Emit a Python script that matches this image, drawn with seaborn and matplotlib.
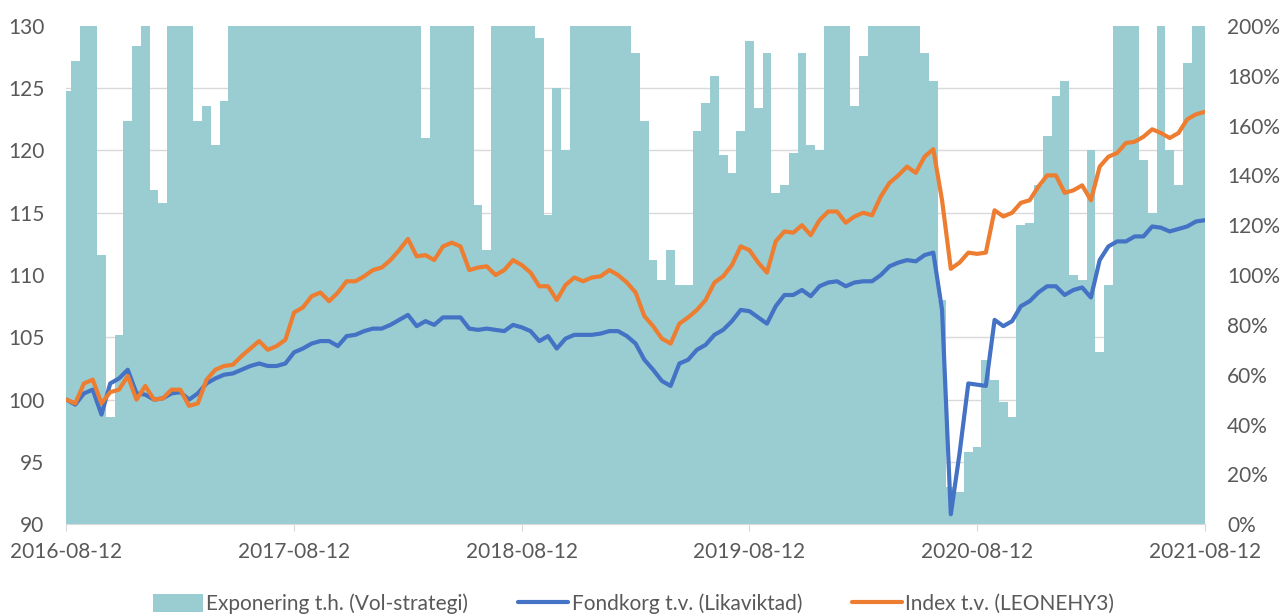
import pandas as pd
import numpy as np
import seaborn as sns
import matplotlib.pyplot as plt
import matplotlib.dates as mdates
from matplotlib.ticker import MultipleLocator, FuncFormatter
from matplotlib.patches import Patch
from matplotlib.lines import Line2D


# biweekly readings, 2016-08-12 .. 2021-08-12
dates = pd.date_range('2016-08-12', '2021-08-12', periods=131)

fondkorg = [100.0, 99.6, 100.5, 100.8, 98.8, 101.3, 101.7, 102.4, 100.5, 100.4,
            100.0, 100.1, 100.5, 100.6, 100.0, 100.5, 101.3, 101.7, 102.0, 102.1,
            102.4, 102.7, 102.9, 102.7, 102.7, 102.9, 103.8, 104.1, 104.5, 104.7,
            104.7, 104.3, 105.1, 105.2, 105.5, 105.7, 105.7, 106.0, 106.4, 106.8,
            105.9, 106.3, 106.0, 106.6, 106.6, 106.6, 105.7, 105.6, 105.7, 105.6,
            105.5, 106.0, 105.8, 105.5, 104.7, 105.1, 104.1, 104.9, 105.2, 105.2,
            105.2, 105.3, 105.5, 105.5, 105.1, 104.5, 103.2, 102.4, 101.5, 101.1,
            102.9, 103.2, 104.0, 104.4, 105.2, 105.6, 106.3, 107.2, 107.1, 106.6,
            106.1, 107.5, 108.4, 108.4, 108.8, 108.3, 109.1, 109.4, 109.5, 109.1,
            109.4, 109.5, 109.5, 110.0, 110.7, 111.0, 111.2, 111.1, 111.6, 111.8,
            107.2, 90.8, 95.7, 101.3, 101.2, 101.1, 106.4, 105.9, 106.3, 107.5,
            107.9, 108.6, 109.1, 109.1, 108.4, 108.8, 109.0, 108.2, 111.2, 112.3,
            112.7, 112.7, 113.1, 113.1, 113.9, 113.8, 113.5, 113.7, 113.9, 114.3,
            114.4]

index_hy = [100.0, 99.7, 101.3, 101.6, 99.7, 100.6, 100.8, 101.9, 100.0, 101.1,
            100.0, 100.1, 100.8, 100.8, 99.5, 99.7, 101.6, 102.4, 102.7, 102.8,
            103.5, 104.1, 104.7, 104.0, 104.3, 104.8, 107.0, 107.4, 108.3, 108.6,
            107.9, 108.6, 109.5, 109.5, 109.9, 110.4, 110.6, 111.2, 112.0, 112.9,
            111.5, 111.6, 111.2, 112.3, 112.6, 112.3, 110.4, 110.6, 110.7, 110.0,
            110.4, 111.2, 110.8, 110.2, 109.1, 109.1, 108.0, 109.2, 109.8, 109.5,
            109.8, 109.9, 110.4, 110.0, 109.4, 108.6, 106.7, 105.9, 104.9, 104.5,
            106.1, 106.6, 107.2, 108.0, 109.4, 109.9, 110.8, 112.3, 112.0, 111.0,
            110.2, 112.7, 113.5, 113.4, 114.0, 113.2, 114.4, 115.1, 115.1, 114.2,
            114.7, 115.0, 114.8, 116.3, 117.4, 118.0, 118.7, 118.2, 119.5, 120.1,
            116.0, 110.5, 111.0, 111.8, 111.7, 111.8, 115.2, 114.7, 115.0, 115.8,
            116.0, 117.1, 118.0, 118.0, 116.6, 116.8, 117.2, 116.0, 118.7, 119.5,
            119.8, 120.6, 120.7, 121.1, 121.7, 121.4, 121.0, 121.4, 122.5, 122.9,
            123.1]

# exposure in percent (capped at 200 by the axis)
exponering = [174, 186, 200, 200, 108, 43, 76, 162, 192, 200,
              134, 129, 200, 200, 200, 162, 168, 152, 170, 200,
              200, 200, 200, 200, 200, 200, 200, 200, 200, 200,
              200, 200, 200, 200, 200, 200, 200, 200, 200, 200,
              200, 155, 200, 200, 200, 200, 200, 128, 110, 200,
              200, 200, 200, 200, 195, 124, 175, 150, 200, 200,
              200, 200, 200, 200, 200, 189, 162, 106, 98, 110,
              96, 96, 158, 169, 180, 148, 141, 158, 194, 167,
              189, 133, 136, 149, 189, 152, 150, 200, 200, 200,
              168, 188, 200, 200, 200, 200, 200, 200, 189, 178,
              90, 15, 13, 29, 31, 66, 58, 49, 43, 120,
              121, 136, 156, 172, 178, 100, 98, 150, 69, 96,
              200, 200, 200, 146, 125, 200, 150, 136, 185, 200,
              200]

df = pd.DataFrame({'date': dates, 'Fondkorg': fondkorg, 'Index': index_hy,
                   'Exponering': exponering})

teal = '#99CDD2'
blue = '#4472C4'
orange = '#ED7D31'
grey = '#595959'

sns.set_style('white')
plt.rcParams['font.family'] = ['Lato', 'DejaVu Sans']

fig = plt.figure(figsize=(12.83, 6.16), dpi=100)
ax = fig.add_subplot(111)
fig.subplots_adjust(left=0.0518, right=0.939, top=0.958, bottom=0.149)

# exposure area on the base axes (right scale), lines on the twin (left scale)
ax.fill_between(df['date'], 0, df['Exponering'], step='mid', color=teal, lw=0, zorder=2)
ax.set_ylim(0, 200)
ax.yaxis.set_major_locator(MultipleLocator(20))
ax.yaxis.set_major_formatter(FuncFormatter(lambda v, p: f'{v:.0f}%'))
ax.yaxis.set_minor_locator(MultipleLocator(25))
ax.grid(which='minor', axis='y', color='#D9D9D9', lw=1, zorder=0)
ax.set_axisbelow(True)

ax2 = ax.twinx()
sns.lineplot(data=df, x='date', y='Fondkorg', ax=ax2, color=blue, lw=3)
sns.lineplot(data=df, x='date', y='Index', ax=ax2, color=orange, lw=3)
ax2.set_ylim(90, 130)
ax2.yaxis.set_major_locator(MultipleLocator(5))

# swap sides: percent scale right, index scale left
ax.yaxis.tick_right()
ax2.yaxis.tick_left()

ax.set_xlim(dates[0], dates[-1])
ticks = pd.to_datetime(['2016-08-12', '2017-08-12', '2018-08-12', '2019-08-12',
                        '2020-08-12', '2021-08-12'])
ax.set_xticks(ticks)
ax.xaxis.set_major_formatter(mdates.DateFormatter('%Y-%m-%d'))

for a in (ax, ax2):
    a.set_xlabel('')
    a.set_ylabel('')
    for s in a.spines.values():
        s.set_visible(False)

ax.spines['bottom'].set_visible(True)
ax.spines['bottom'].set_color('#D9D9D9')
ax.tick_params(axis='x', length=5, color='#D9D9D9', pad=8, labelsize=15, labelcolor=grey, bottom=True)
ax.tick_params(axis='y', which='major', length=0, pad=16, labelsize=15, labelcolor=grey)
ax.tick_params(axis='y', which='minor', length=0)
ax2.tick_params(axis='y', length=0, pad=16, labelsize=15, labelcolor=grey)

handles = [Patch(facecolor=teal, edgecolor='none'),
           Line2D([0], [0], color=blue, lw=3),
           Line2D([0], [0], color=orange, lw=3)]
labels = ['Exponering t.h. (Vol-strategi)', 'Fondkorg t.v. (Likaviktad)',
          'Index t.v. (LEONEHY3)']
leg = fig.legend(handles, labels, loc='center', bbox_to_anchor=(0.494, 0.02), ncol=3,
                 frameon=False, fontsize=15, handlelength=2.4, handleheight=1.0,
                 handletextpad=0.15, columnspacing=2.4)
for t in leg.get_texts():
    t.set_color(grey)

plt.savefig('out.png', dpi=100)
